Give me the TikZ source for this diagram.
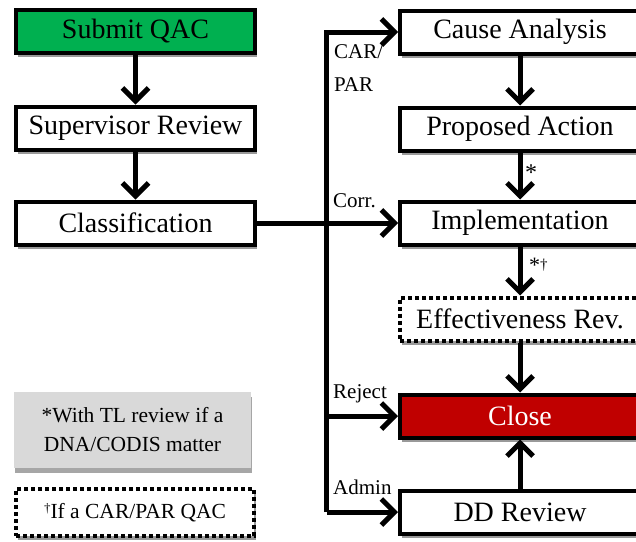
\documentclass[tikz,border=0pt]{standalone}
\usepackage{fontspec}
\setmainfont{Liberation Serif}
\usetikzlibrary{arrows.meta,shadows}
\definecolor{qgreen}{HTML}{00B050}
\definecolor{qred}{HTML}{C00000}
\definecolor{qgray}{HTML}{D9D9D9}
\begin{document}
\begin{tikzpicture}[x=1pt,y=-1pt,
  box/.style={draw=black, line width=4pt, fill=white, minimum height=43pt, inner sep=0pt,
    font=\fontsize{28}{30}\selectfont,
    drop shadow={shadow xshift=2pt, shadow yshift=-4pt, fill=black!40, opacity=1}},
  lbox/.style={box, minimum width=239pt},
  rbox/.style={box, minimum width=240pt},
  dotbox/.style={dash pattern=on 4pt off 3pt},
  conn/.style={line width=5pt, line join=miter},
  arr/.style={conn, -{Straight Barb[length=13pt,width=26pt]}},
  lbl/.style={font=\fontsize{21}{22}\selectfont, inner sep=0pt, anchor=base west},
  note/.style={inner sep=0pt, align=center, font=\fontsize{21.5}{29}\selectfont},
]
\clip (0,0) rectangle (636,541);
\fill[white] (0,0) rectangle (636,541);

% left column
\node[lbox, fill=qgreen] (submit) at (135.5,31.5) {Submit QAC};
\node[lbox] (superv) at (135.5,128) {Supervisor Review};
\node[lbox] (classif) at (135.5,223) {Classification};

% right column
\node[rbox] (cause) at (520,32) {Cause Analysis};
\node[rbox] (propose) at (520,129) {Proposed Action};
\node[rbox] (impl) at (520,223) {Implementation};
\node[rbox, dotbox] (eff) at (520,319) {Effectiveness Rev.};
\node[rbox, fill=qred, text=white] (close) at (520,416) {Close};
\node[rbox] (dd) at (520,512) {DD Review};

% notes
\node[note, fill=qgray, minimum width=237pt, minimum height=76pt,
  drop shadow={shadow xshift=1pt, shadow yshift=-5pt, fill=black!35, opacity=1}]
  (note1) at (132.5,430) {*With TL review if a\\DNA/CODIS matter};
\node[note, draw=black, line width=4pt, dotbox, fill=white, minimum width=238pt, minimum height=47pt,
  drop shadow={shadow xshift=2pt, shadow yshift=-4pt, fill=black!40, opacity=1}]
  (note2) at (135,512.5) {\raisebox{0.6ex}{\fontsize{13}{13}\selectfont †}If a CAR/PAR QAC};

% trunk
\coordinate (trunk) at (326.5,0);

% connectors
\draw[arr] (submit) -- (superv);
\draw[arr] (superv) -- (classif);
\draw[arr] (classif.east) -- (impl.west);
\draw[arr] (trunk |- dd.west) -- (trunk |- cause.west) -- (cause.west);
\draw[arr] (trunk |- close.west) -- (close.west);
\draw[arr] (trunk |- dd.west) -- (dd.west);
\draw[arr] (cause) -- (propose);
\draw[arr] (propose) -- (impl);
\draw[arr] (impl) -- (eff);
\draw[arr] (eff) -- (close);
\draw[arr] (dd) -- (close);

% labels
\node[lbl] (lcar) at (334,58) {CAR/};
\node[lbl] (lpar) at (334,91) {PAR};
\node[lbl] (lcorr) at (333,207) {Corr.};
\node[lbl] (lrej) at (333,398) {Reject};
\node[lbl] (ladm) at (333,494) {Admin};
\node[inner sep=0pt, anchor=north west, font=\fontsize{24}{24}\selectfont] (lstar) at (525,165) {*};
\node[inner sep=0pt, anchor=north west, font=\fontsize{22}{22}\selectfont] (lstardag) at (529,258) {*\raisebox{0.3ex}{\fontsize{15}{15}\selectfont †}};
\end{tikzpicture}
\end{document}
